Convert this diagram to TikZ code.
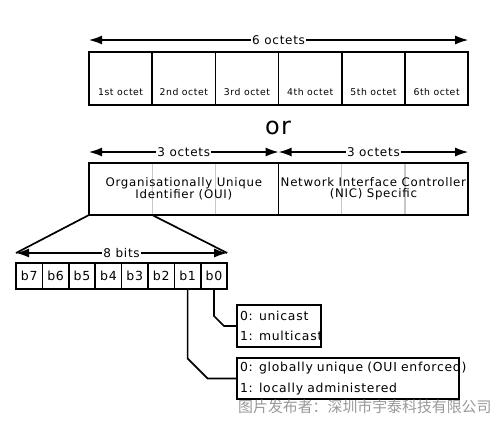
\documentclass[tikz,border=0pt]{standalone}
\usepackage{fontspec}
\setmainfont{DejaVu Sans}[LetterSpace=6]
\newfontfamily\cjkfont{Noto Sans CJK SC}
\usetikzlibrary{arrows.meta,calc,positioning}
\tikzset{%
  font=\fontsize{12}{14}\selectfont,>={Latex[length=13pt,width=9pt]},
  octet/.style={draw,line width=1.7pt,rectangle,inner sep=0pt,outer sep=0pt,
    anchor=north west,minimum width=63.2pt,minimum height=53pt,
    text height=43pt,text depth=10pt,font=\fontsize{9.3}{11}\selectfont},
  suboctet/.style={draw=black!22,line width=1.3pt,rectangle,inner sep=0pt,
    outer sep=0pt,anchor=north west,minimum width=63.2pt,minimum height=52pt},
  half/.style={draw,line width=1.7pt,rectangle,inner sep=0pt,outer sep=0pt,
    minimum width=189.6pt,minimum height=52pt,align=center,
    font=\fontsize{11.8}{11}\selectfont},
  bit/.style={draw,line width=1.7pt,rectangle,inner sep=0pt,outer sep=0pt,
    anchor=north west,minimum width=26.4pt,minimum height=26pt,
    font=\fontsize{12.5}{14}\selectfont},
  flagbox/.style={draw,line width=1.7pt,rectangle,inner xsep=3pt,inner ysep=0pt,
    outer sep=0pt,anchor=north west,align=left,
    font=\fontsize{12.4}{20.5}\selectfont},
  dim/.style={<->,line width=1.4pt},
  dimlabel/.style={fill=white,inner xsep=1pt,inner ysep=0pt},
  wire/.style={line width=1.7pt}
}
\begin{document}
\begin{tikzpicture}[x=1pt,y=-1pt]
  \useasboundingbox (0,0) rectangle (500,421);
  % the six octets
  \foreach \t [count=\i] in {1st,2nd,3rd,4th,5th,6th}
    \node[octet] (oct-\i) at ({89+63.2*(\i-1)},52) {\t\ octet};
  \coordinate (six-l) at ($(oct-1.north west)+(0,-12)$);
  \coordinate (six-r) at ($(oct-6.north east)+(0,-12)$);
  \draw[dim] (six-l) -- (six-r) node[midway,dimlabel] {6 octets};

  \node[font=\fontsize{24}{26}\selectfont] (or) at (278,128) {or};

  % OUI / NIC split
  \foreach \i in {1,...,6}
    \node[suboctet] (sub-\i) at ({89+63.2*(\i-1)},163) {};
  \node[half,anchor=north west] (oui) at (sub-1.north west)
    {Organisationally Unique\\Identifier (OUI)};
  \node[half,right=0pt of oui] (nic)
    {Network Interface Controller\\(NIC) Specific};
  \coordinate (oui-l) at ($(oui.north west)+(0,-11)$);
  \coordinate (oui-r) at ($(oui.north east)+(0,-11)$);
  \coordinate (nic-r) at ($(nic.north east)+(0,-11)$);
  \draw[dim] (oui-l) -- (oui-r) node[midway,dimlabel] {3 octets};
  \draw[dim] (oui-r) -- (nic-r) node[midway,dimlabel] {3 octets};

  % bits of the first octet
  \foreach \b [count=\i] in {7,6,...,0}
    \node[bit] (bit-\b) at ({16+26.4*(\i-1)},263) {b\b};
  \coordinate (bits-l) at ($(bit-7.north west)+(0,-10)$);
  \coordinate (bits-r) at ($(bit-0.north east)+(0,-10)$);
  \draw[dim] (bits-l) -- (bits-r) node[midway,dimlabel] {8 bits};
  \draw[wire] (oui.south west) -- (bits-l);
  \draw[wire] (sub-1.south east) -- (bits-r);

  % flag meanings
  \node[flagbox,text width=78pt,minimum height=42pt] (cast) at (237,305)
    {\mbox{0: unicast}\\\mbox{1: multicast}};
  \node[flagbox,text width=216pt,minimum height=41pt] (scope) at (237,358)
    {\mbox{0: globally unique (OUI enforced)}\\\mbox{1: locally administered}};
  \draw[wire] (bit-0.south) -- ($(bit-0.south |- cast.west)+(0,-10)$)
    -- ($(bit-0.south |- cast.west)+(10,0)$) -- (cast.west);
  \draw[wire] (bit-1.south) -- ($(bit-1.south |- scope.west)+(0,-20)$)
    -- ($(bit-1.south |- scope.west)+(20,0)$) -- (scope.west);

  \node[anchor=west,text=black!40,inner sep=0pt,
    font=\cjkfont\fontsize{14.9}{16}\selectfont] (credit) at (238,407)
    {图片发布者：深圳市宇泰科技有限公司};
\end{tikzpicture}
\end{document}
